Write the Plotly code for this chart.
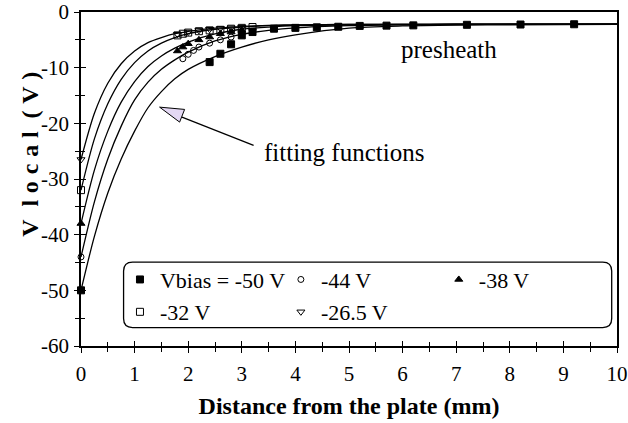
import plotly.graph_objects as go

# ---- data ----
fit_x = [0, 0.25, 0.5, 0.75, 1, 1.25, 1.5, 1.75, 2, 2.5, 3, 3.5, 4, 5, 6, 7, 8, 10]
fit_m50 = [-50, -40.3, -32.5, -26.4, -21.4, -17.2, -14.3, -12.0, -10.3, -8.0, -6.3, -5.0, -4.1, -2.9, -2.5, -2.35, -2.3, -2.2]
fit_m44 = [-44, -34.1, -26.4, -20.5, -15.8, -12.6, -10.3, -8.6, -7.2, -5.2, -4.0, -3.3, -2.85, -2.45, -2.3, -2.25, -2.22, -2.2]
fit_m38 = [-38, -28.4, -21.4, -16.2, -12.5, -9.8, -7.9, -6.5, -5.4, -3.95, -3.1, -2.7, -2.45, -2.3, -2.25, -2.22, -2.2, -2.2]
fit_m32 = [-32, -22.8, -16.5, -12.1, -9.1, -7.0, -5.6, -4.6, -3.9, -3.1, -2.7, -2.45, -2.35, -2.25, -2.22, -2.2, -2.2, -2.2]
fit_m26 = [-26.5, -18.2, -12.8, -9.3, -7.0, -5.5, -4.6, -3.9, -3.5, -2.9, -2.6, -2.4, -2.3, -2.25, -2.22, -2.2, -2.2, -2.2]

sq_x = [0, 2.4, 2.6, 2.8, 3.0, 3.2, 3.6, 4.0, 4.4, 4.8, 5.2, 5.7, 6.2, 7.2, 8.2, 9.2]
sq_y = [-50, -9.0, -7.5, -5.8, -4.2, -3.6, -3.0, -2.85, -2.75, -2.65, -2.5, -2.45, -2.4, -2.3, -2.25, -2.2]

circ_x = [0, 1.9, 2.0, 2.1, 2.2, 2.4, 2.6, 2.8, 3.0]
circ_y = [-44, -8.4, -7.6, -6.9, -6.3, -5.6, -5.0, -4.5, -4.0]

tri_x = [0, 1.8, 1.9, 2.0, 2.2, 2.4, 2.6, 2.8, 3.0]
tri_y = [-38, -7.0, -6.3, -5.7, -5.0, -4.5, -3.9, -3.6, -3.3]

osq_x = [0, 1.8, 1.9, 2.0, 2.2, 2.4, 2.6, 2.8, 3.0, 3.2]
osq_y = [-32, -4.2, -3.9, -3.7, -3.45, -3.3, -3.2, -3.0, -2.85, -2.7]

tdn_x = [0, 1.8, 2.0, 2.2, 2.4, 2.6, 2.8, 3.0]
tdn_y = [-26.5, -4.0, -3.6, -3.3, -3.1, -2.95, -2.85, -2.75]

series_names = ["Vbias = -50 V", "-44 V", "-38 V", "-32 V", "-26.5 V"]
x_ticks = list(range(0, 11))
x_tick_labels = [str(v) for v in x_ticks]
y_ticks = list(range(-60, 1, 10))
y_tick_labels = ["-60", "-50", "-40", "-30", "-20", "-10", "0"]

FONT = "Liberation Serif"

fig = go.Figure()

# fitting functions
for fy in [fit_m50, fit_m44, fit_m38, fit_m32, fit_m26]:
    fig.add_trace(go.Scatter(x=fit_x, y=fy, mode="lines",
                             line=dict(color="black", width=1.3, shape="spline", smoothing=0.8),
                             showlegend=False, hoverinfo="skip"))

# (x, y, symbol, size, legend id)
msty = [
    (sq_x, sq_y, "square", 7, "legend"),
    (circ_x, circ_y, "circle-open", 6, "legend2"),
    (tri_x, tri_y, "triangle-up", 7, "legend3"),
    (osq_x, osq_y, "square-open", 7, "legend4"),
    (tdn_x, tdn_y, "triangle-down-open", 7, "legend5"),
]
order = [4, 3, 2, 1, 0]
traces = []
for i, (xx, yy, sym, sz, lg) in enumerate(msty):
    traces.append(go.Scatter(x=xx, y=yy, mode="markers", name=series_names[i],
                             marker=dict(symbol=sym, size=sz, color="black",
                                         line=dict(color="black", width=1)),
                             legend=lg, cliponaxis=False))
for i in order:
    fig.add_trace(traces[i])

# secondary overlay axes for inward ticks (cross ticks)
fig.add_trace(go.Scatter(x=[None], y=[None], xaxis="x2", yaxis="y2", showlegend=False, hoverinfo="skip"))

W, H = 628, 423
PL, PR, PT, PB = 80.7, 617.0, 11.5, 345.7
L, R, T, B = PL, W - PR, PT, H - PB
pw = PR - PL
ph = PB - PT

def px2paper_x(p):
    return (p - PL) / pw

def py2paper_y(p):
    return (PB - p) / ph

axis_common = dict(showgrid=False, zeroline=False, linecolor="black", linewidth=1.5,
                   tickcolor="black", tickwidth=1.2, automargin=False, ticklabeloverflow="allow")

# legend item positions (symbol centre, screen px)
leg_pos = [(141.7, 279.3), (302.7, 279.3), (460.7, 279.3), (141.7, 311.7), (302.7, 311.7)]
legends = {}
for k, (lx, ly) in enumerate(leg_pos):
    key = "legend" if k == 0 else f"legend{k+1}"
    legends[key] = dict(orientation="h", x=px2paper_x(lx - 22), xanchor="left",
                        y=py2paper_y(ly), yanchor="middle", bgcolor="rgba(0,0,0,0)",
                        borderwidth=0, font=dict(family=FONT, size=22), itemsizing="trace")

fig.update_layout(
    width=W, height=H,
    margin=dict(l=L, r=R, t=T, b=B, pad=0, autoexpand=False),
    paper_bgcolor="white", plot_bgcolor="white",
    font=dict(family=FONT, color="black", size=21),
    xaxis=dict(range=[0, 10], tickvals=x_ticks, ticktext=x_tick_labels, ticks="outside", ticklen=5,
               ticklabelstandoff=3,
               minor=dict(dtick=0.5, ticks="outside", ticklen=4, tickcolor="black", tickwidth=1.2),
               mirror=True, showline=True,
               tickfont=dict(family=FONT, size=21),
               title=dict(text="<b>Distance from the plate (mm)</b>", font=dict(family=FONT, size=24), standoff=12),
               **axis_common),
    yaxis=dict(range=[-60, 0], tickvals=y_ticks, ticktext=y_tick_labels, ticks="outside", ticklen=5,
               ticklabelstandoff=1,
               minor=dict(dtick=5, ticks="outside", ticklen=4, tickcolor="black", tickwidth=1.2),
               mirror=True, showline=True,
               tickfont=dict(family=FONT, size=21),
               **axis_common),
    xaxis2=dict(range=[0, 10], overlaying="x", anchor="y", side="bottom", tickvals=x_ticks,
                ticks="inside", ticklen=5, showticklabels=False, showline=False, automargin=False,
                minor=dict(dtick=0.5, ticks="inside", ticklen=4, tickcolor="black", tickwidth=1.2),
                showgrid=False, zeroline=False, tickcolor="black", tickwidth=1.2),
    yaxis2=dict(range=[-60, 0], overlaying="y", anchor="x", side="left", tickvals=y_ticks,
                ticks="inside", ticklen=5, showticklabels=False, showline=False, automargin=False,
                minor=dict(dtick=5, ticks="inside", ticklen=4, tickcolor="black", tickwidth=1.2),
                showgrid=False, zeroline=False, tickcolor="black", tickwidth=1.2),
    showlegend=True,
    **legends,
)

# y-axis title as rotated annotation
sp = "\u2009\u200a"
ytitle = sp.join(list("V")) + sp + " " + sp.join(list("local")) + sp + " " + sp.join(list("(V)"))
fig.add_annotation(x=px2paper_x(15), y=py2paper_y(154), xref="paper", yref="paper",
                   text=f"<b>{ytitle}</b>",
                   textangle=-90, showarrow=False, font=dict(family=FONT, size=24))

# rounded legend frame
x0, x1 = px2paper_x(123.3), px2paper_x(611.7)
y0, y1 = py2paper_y(327.3), py2paper_y(261.7)
rx, ry = 9 / pw, 9 / ph
path = (f"M {x0+rx},{y0} L {x1-rx},{y0} Q {x1},{y0} {x1},{y0+ry} "
        f"L {x1},{y1-ry} Q {x1},{y1} {x1-rx},{y1} L {x0+rx},{y1} "
        f"Q {x0},{y1} {x0},{y1-ry} L {x0},{y0+ry} Q {x0},{y0} {x0+rx},{y0} Z")
fig.add_shape(type="path", path=path, xref="paper", yref="paper",
              line=dict(color="black", width=1.3), fillcolor="rgba(0,0,0,0)", layer="above")

# arrow: shaft + lavender triangle head
fig.add_shape(type="line", xref="x", yref="y", x0=3.22, y0=-23.97, x1=1.884, y1=-18.89,
              line=dict(color="black", width=1.3))
fig.add_shape(type="path", xref="x", yref="y",
              path="M 1.466,-17.09 L 1.933,-17.5 L 1.84,-19.78 Z",
              line=dict(color="black", width=1), fillcolor="#e4d8f4")

fig.add_annotation(x=6.87, y=-6.73, xref="x", yref="y", text="presheath", showarrow=False,
                   font=dict(family=FONT, size=25))
fig.add_annotation(x=3.37, y=-25.3, xref="x", yref="y", text="fitting functions", showarrow=False,
                   xanchor="left", font=dict(family=FONT, size=25))

fig.write_html("out.html", config={"displayModeBar": False},
               post_script="document.body.style.margin='0';document.body.style.overflow='hidden';")
